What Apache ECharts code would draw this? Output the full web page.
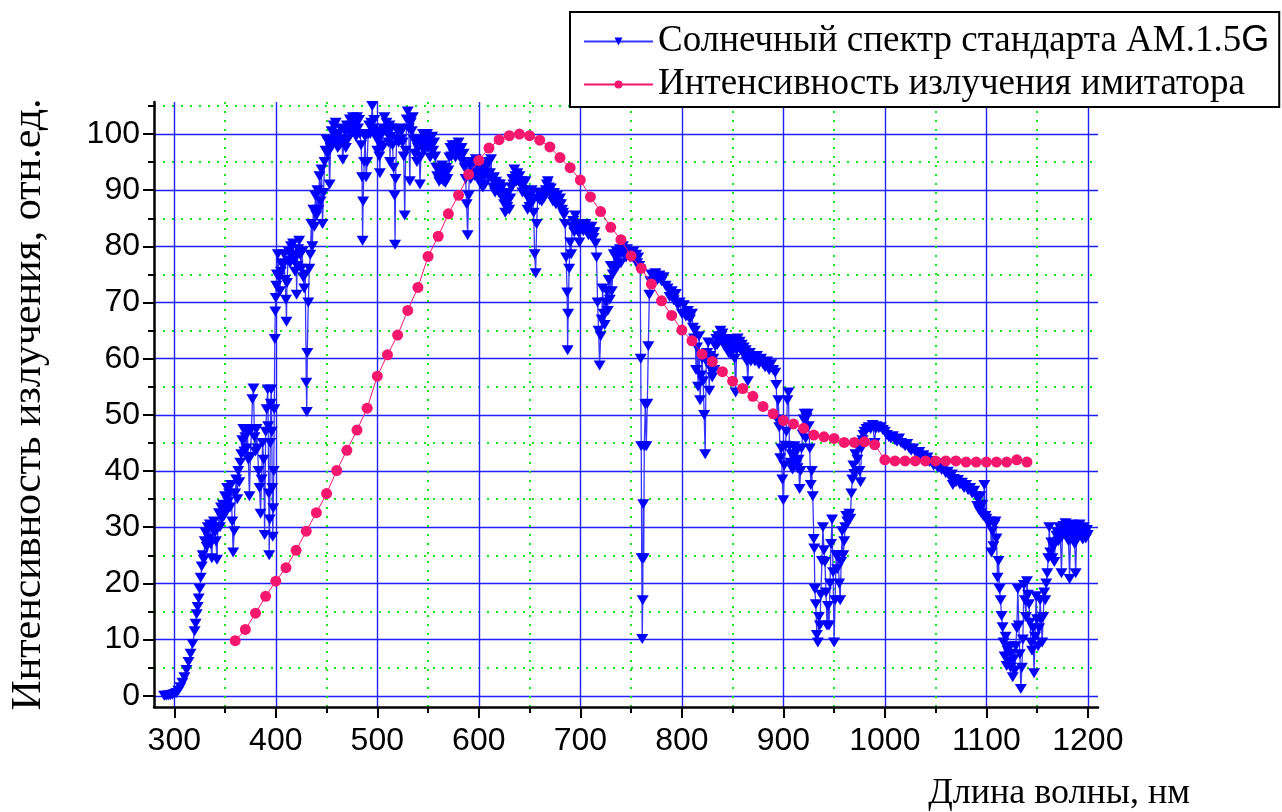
<!DOCTYPE html>
<html><head><meta charset="utf-8">
<script src="https://cdn.jsdelivr.net/npm/echarts@6/dist/echarts.min.js"></script>
<style>html,body{margin:0;padding:0;background:#fff}#c{width:1282px;height:812px}</style>
</head><body><div id="c"></div><script>
// ---------- tick labels ----------
const xMajorTicks = [300, 400, 500, 600, 700, 800, 900, 1000, 1100, 1200];
const xMinorTicks = [350, 450, 550, 650, 750, 850, 950, 1050, 1150];
const yMajorTicks = [0, 10, 20, 30, 40, 50, 60, 70, 80, 90, 100];
const yMinorTicks = [5, 15, 25, 35, 45, 55, 65, 75, 85, 95, 105];

// ---------- series names ----------
const solarName = 'Солнечный спектр стандарта АМ.1.5G';
const imitatorName = 'Интенсивность излучения имитатора';

// ---------- AM1.5G solar spectrum, [nm, rel. units] ----------
const solarUV = [[290,0],[292,0],[294,0.05],[296,0.1],[298,0.2],[300,0.3],[302,0.5],[304,0.9],[306,1.5],[308,2.3],[310,3.3],[312,4.6],[314,6.0],[316,7.5],[318,9.2],[320,11.5],[321,12.8],[322,14.5],[323,15.8],[324,17.3],[325,19.0],[326,21.0],[327,23.0],[328,25.0],[329,24.2],[330,27.5],
[331,29.0],[332,26.5],[333,30.0],[334,28.0],[335,30.5],[336,27.0],[337,24.5],[338,29.5],[339,31.0],[340,29.0],[341,27.5],[342,24.2],[343,30.0],[344,32.5],[345,30.0],[346,33.5],[347,31.5],[348,34.0],[349,32.0],[350,35.5],[351,33.0],[352,37.0],[353,34.5],[354,36.0],[355,33.5],[356,37.5],[357,31.0],[358,25.5],[359,29.3],[360,36.0],[361,38.5],[362,35.0],[363,40.0],[364,38.0],[365,41.5],[366,43.0],[367,45.5],[368,47.5],[369,43.5],[370,46.0],[371,44.0],[372,47.0],[373,42.0],[374,35.5],[375,42.5],[376,47.5],[377,52.8],[378,54.7],[379,46.0],[380,43.5],[381,47.5],[382,44.0],[383,40.0],[384,37.0],[385,32.4],[386,38.5],[387,45.0],[388,42.0],[389,28.6],[390,47.0],[391,51.0],[392,54.5],[392.5,48.0],[393,36.0],[393.5,25.0],[394,31.4],[394.5,45.0],[395,52.0],[395.5,54.5],[396,47.0],[396.5,37.0],[397,28.3],[397.5,33.4],[398,40.0],[398.5,51.0],[399,63.5],[399.5,68.4],[400,70.8]];

const solarBlue = [[400.5,73.0],[401,75.0],[402,78.6],[403,74.5],[404,72.0],[405,75.5],[406,77.0],[407,76.5],[408,78.6],[409,74.0],[410,70.5],[410.5,66.6],[411,73.5],[412,77.5],[413,79.0],[414,77.0],[415,80.0],[416,78.0],[417,80.5],[418,77.5],[419,75.5],[420,78.5],[420.5,71.4],[421,76.5],[422,79.5],[423,81.0],[424,78.5],[425,76.0],[426,79.0],[427,74.5],[428,72.5],[429,75.0],[430,55.7],[430.5,50.5],[431,61.0],[432,70.0],[433,76.0],[434,78.5],[435,84.0],[436,80.0],[437,86.5],[438,83.5],[439,89.0],[440,85.5],[441,90.0],[442,86.5],[443,92.5],[444,88.0],[445,93.7],[446,84.0],[447,89.5],[448,95.0],[449,97.0],[450,99.0],[451,96.5],[452,98.5],[453,91.0],[454,97.5],[455,100.5],[456,98.0],[457,101.5],[458,99.0],[459,102.0],[460,99.5],[461,97.5],[462,100.0],[463,98.0],[464,101.0],[465,99.0],[466,95.4],[467,98.5],[468,100.5],[469,97.5],[470,101.5],[471,99.0],[472,100.5],[473,102.6],[474,100.0],[475,101.5],[476,103.0],[477,100.5],[478,102.0],[479,99.5],[480,103.0],[481,101.0],[482,102.5],[483,100.0],[484,98.0],[485,92.3],[485.5,81.0],[486,88.0],[487,95.0],[488,99.5],[489,92.3],[490,95.0],[491,100.0],[492,101.5],[493,100.0],[494,102.0],[495,105.0],[496,101.0],[497,102.5],[498,99.5],[499,100.5],[500,97.0]];

const solarGreen = [[501,99.0],[502,96.0],[502.5,93.0],[503,98.0],[504,100.0],[505,97.5],[506,101.0],[507,103.0],[508,100.5],[509,102.0],[510,100.0],[511,98.5],[512,101.5],[512.5,95.0],[513,99.5],[514,101.0],[515,98.0],[516,94.0],[517,89.0],[517.5,80.3],[518,92.0],[519,99.0],[520,100.5],[521,98.5],[522,101.0],[523,99.0],[524,100.5],[525,98.5],[526,96.0],[527,85.5],[528,97.0],[529,102.6],[530,104.0],[531,101.0],[532,91.6],[533,102.0],[534,100.5],[535,103.0],[536,99.0],[537,96.5],[538,98.5],[539,95.0],[540,97.5],[541,99.0],[542,91.0],[543,96.0],[544,98.5],[545,100.0],[546,97.0],[547,99.5],[548,98.0],[549,100.0],[550,97.5],[551,99.0],[552,95.8],[553,98.0],[554,99.5],[555,97.0],[556,98.5],[557,96.0],[558,94.0],[559,92.5],[560,94.0],[561,91.5],[562,93.5],[563,92.0],[564,94.4],[565,91.6],[566,93.0],[567,91.3],[568,94.0],[569,92.0],[570,93.5],[571,95.8],[572,97.5],[573,96.0],[574,98.0],[575,96.5],[576,97.5],[577,95.8],[578,98.0],[579,96.5],[580,98.5],[581,97.0],[582,96.0],[583,97.5],[584,95.0],[585,96.5],[586,94.0],[587,92.0],[588,87.5],[589,82.0],[590,89.0],[591,94.5],[592,92.0],[593,95.0],[594,93.0],[595,94.5],[596,92.5],[597,95.5],[598,93.0],[599,94.5],[600,92.0]];

const solarRed = [[601,94.0],[602,91.0],[603,93.5],[604,90.5],[605,92.5],[606,91.0],[607,93.0],[608,94.5],[609,92.5],[610,95.0],[611,93.0],[612,95.5],[613,92.0],[614,90.5],[615,92.3],[616,89.6],[617,91.5],[618,90.0],[619,91.0],[620,89.5],[621,91.0],[622,89.0],[623,90.5],[624,88.5],[625,87.5],[626,86.0],[627,88.0],[628,87.0],[629,89.5],[630,86.5],[631,88.5],[632,90.5],[633,92.0],[634,91.0],[635,93.7],[636,92.5],[637,91.5],[638,93.0],[639,91.6],[640,92.5],[641,91.0],[642,91.6],[643,89.6],[644,91.0],[645,90.0],[646,91.6],[647,89.0],[648,86.5],[649,88.5],[650,87.0],[651,89.0],[652,90.0],[653,88.0],[654,86.0],[655,78.6],[656,75.2],[657,84.0],[658,88.5],[659,89.6],[660,88.2],[661,89.0],[662,88.0],[663,89.5],[664,88.5],[665,89.0],[666,90.0],[667,91.0],[668,91.6],[669,90.5],[670,89.5],[671,90.3],[672,89.0],[673,88.0],[674,89.5],[675,88.5],[676,87.5],[677,89.0],[678,88.0],[679,87.5],[680,88.5],[681,87.5],[682,86.5],[683,86.0],[684,85.5],[685,84.0],[686,78.0],[687,71.8],[687.5,61.5],[688,68.0],[689,76.0],[690,80.7],[691,78.6],[692,83.5],[693,84.5],[694,82.5],[695,85.5],[696,83.0],[697,84.0],[698,82.5],[699,80.7],[700,83.5],
[701,83.0],[702,84.0],[703,82.7],[704,83.5],[705,84.0],[706,82.7],[707,83.5],[708,82.0],[709,83.0],[710,82.0],[711,83.5],[712,82.5],[713,81.5],[714,82.5],[715,80.5],[716,78.0],[717,70.0],[718,65.0],[719,58.8],[720,64.0],[721,67.0],[722,72.5],[723,68.0],[724,66.0],[725,70.0],[726,72.0],[727,68.5],[728,74.0],[729,70.5],[730,76.5],[731,72.0],[732,75.0],[733,78.6],[734,76.0],[735,78.0],[736,79.0],[737,76.5],[738,78.5],[739,79.5],[740,77.0],[741,79.0],[742,80.0],[743,78.5],[744,79.0],[745,78.0],[746,79.5],[747,78.5],[748,79.0],[749,78.0],[750,79.0],[751,78.0],[752,79.0],[753,78.0],[754,77.5],[755,78.5],[756,77.0],[757,78.0],[758,76.5],[759,75.9]];

const solarNIR1 = [[759.5,60.0],[760,44.4],[760.5,24.5],[761,10.1],[761.5,17.0],[762,34.1],[762.5,24.5],[763,44.4],[764,51.9],[765,44.4],[766,52.0],[767,62.2],[768,71.4],[769,73.8],[770,75.0],[772,74.5],[774,75.2],[776,74.0],[778,74.8],[780,73.8],[782,74.5],[784,73.0],[786,72.5],[788,71.0],[790,72.0],[792,70.4],[794,71.5],[796,69.5],[798,70.0],[800,68.0],[802,69.5],[804,67.5],[806,68.5],[808,67.0],[810,68.0],[811,65.5],[812,63.6],[813,65.0],[814,58.0],[815,62.0],[816,55.0],[817,64.0],[818,52.6],[819,57.0],[820,60.0],[821,56.0],[822,50.0],[823,43.0],[824,59.5],[825,61.0],[826,62.9],[827,54.3],[828,60.5],[829,58.0],[830,56.7],[831,60.0],[832,58.0],[833,62.2],[834,63.5],[835,62.5],[836,64.0],[837,63.0],[838,65.0],[839,64.0],[840,64.5],[841,63.5],[842,62.2],[843,63.5],[844,62.0],[845,63.0],[846,61.0],[847,62.5],[848,60.8],[849,62.0],[850,63.5],[851,62.0],[852,60.0],[853,54.0],[854,61.5],[855,63.6],[856,62.5],[857,63.0],[858,61.5],[859,62.5],[860,61.0],[861,62.0],[862,60.8],[863,61.5],[864,59.5],[865,56.0],[866,60.5],[867,61.0],[868,59.5],[869,60.5],[870,60.0],[872,59.5],[874,60.5],[876,59.0],[878,60.0],[880,59.0],[882,58.5],[884,59.5],[886,58.0],[888,59.0],[890,58.0],[892,57.5],[893,55.3],[894,49.2],[895,52.6],[896,47.8],[897,42.3],[898,44.0],[899,38.5],[900,34.8]];

const solarNIR2 = [[901,41.0],[902,44.5],[903,47.0],[904,52.6],[905,54.0],[906,44.4],[907,41.5],[908,43.0],[909,40.3],[910,42.5],[911,44.4],[912,41.0],[913,43.5],[914,40.5],[915,42.0],[916,36.8],[917,40.0],[918,44.0],[919,46.5],[920,49.2],[921,50.2],[922,45.8],[923,49.5],[924,50.2],[925,48.0],[926,44.0],[927,37.5],[928,40.0],[929,35.5],[930,27.9],[930.5,26.2],[931,19.0],[932,16.3],[933,10.8],[934,9.5],[935,14.0],[936,12.5],[937,18.0],[938,24.0],[939,30.0],[940,25.9],[941,23.8],[942,18.4],[943,12.5],[944,16.0],[945,12.5],[946,20.0],[947,27.0],[948,31.4],[949,22.0],[950,9.5],[951,17.0],[952,25.0],[953,22.5],[954,25.0],[955,20.0],[956,17.0],[957,23.8],[958,29.3],[959,25.0],[960,27.5],[961,30.0],[962,32.0],[963,31.0],[964,32.0],[965,32.4],[966,31.5],[967,36.0],[968,38.5],[969,41.0],[970,39.5],[971,43.0],[972,45.0],[973,42.0],[974,44.4],[975,40.0],[976,38.0],[977,44.0],[978,45.5],[979,46.4],[980,47.0],[982,47.5],[984,47.8],[986,47.5],[988,48.2],[990,45.0],[991,47.5],[992,48.0],[994,47.6],[996,47.8],[998,47.3],[1000,47.0],
[1002,46.4],[1004,46.0],[1006,45.8],[1008,46.2],[1010,45.5],[1012,45.2],[1014,45.8],[1016,45.0],[1018,44.8],[1020,44.4],[1022,44.8],[1024,44.0],[1026,43.6],[1028,44.0],[1030,43.4],[1032,43.0],[1034,43.4],[1036,42.6],[1038,42.8],[1040,42.0],[1042,42.4],[1044,41.6],[1046,41.8],[1048,41.0],[1050,41.4],[1052,40.6],[1054,40.9],[1056,40.2],[1058,40.5],[1060,39.6],[1062,39.9],[1064,39.0],[1066,39.4],[1067,37.5],[1068,38.6],[1070,38.0],[1072,38.4],[1074,37.6],[1076,37.9],[1078,37.0],[1080,37.5],[1082,36.6],[1084,37.0],[1086,36.0],[1088,36.5],[1090,35.5],[1091,33.8],[1092,35.0],[1093,33.0],[1094,35.5],[1095,32.5],[1096,34.0],[1097,32.0],[1098,37.5],[1099,32.0],[1100,31.5],
[1102,30.7],[1104,31.0],[1105,25.5],[1106,29.3],[1107,26.6],[1108,30.5],[1109,31.0],[1110,28.0],[1111,21.0],[1112,24.0],[1113,19.0],[1114,17.0],[1115,14.2],[1116,12.2],[1117,9.5],[1118,7.0],[1119,10.5],[1120,5.3],[1121,8.0],[1122,6.0],[1123,8.8],[1124,5.0],[1125,7.5],[1126,3.3],[1127,6.5],[1128,4.5],[1129,8.8],[1130,12.0],[1131,19.0],[1132,12.5],[1133,7.4],[1134,1.2],[1135,5.0],[1136,10.0],[1137,19.7],[1138,17.0],[1139,14.0],[1140,20.4],[1141,18.0],[1142,16.3],[1143,13.0],[1144,9.5],[1145,8.0],[1146,12.0],[1147,4.0],[1148,10.5],[1149,17.7],[1150,13.6],[1151,8.8],[1152,12.0],[1153,17.0],[1154,13.6],[1155,9.5],[1156,14.0],[1157,18.4],[1158,17.0],[1159,20.0],[1160,21.8],[1161,24.5],[1162,30.0],[1163,25.5],[1164,27.3],[1165,24.5],[1166,26.5],[1167,23.8],[1168,27.3],[1169,28.5],[1170,29.0],[1171,27.5],[1172,30.0],[1173,28.0],[1174,21.8],[1175,28.5],[1176,30.2],[1177,29.0],[1178,30.7],[1179,28.5],[1180,30.0],[1181,27.5],[1182,20.8],[1183,29.0],[1184,30.5],[1185,28.5],[1186,29.8],[1187,27.0],[1188,21.8],[1189,28.0],[1190,30.0],[1191,29.0],[1192,30.5],[1193,28.5],[1194,29.5],[1195,27.8],[1196,30.0],[1197,28.8],[1198,28.0],[1199,29.5],[1200,28.6]];

// ---------- simulator (imitator) intensity ----------
const imitatorWavelengths = [360,370,380,390,400,410,420,430,440,450,460,470,480,490,500,510,520,530,540,550,560,570,580,590,600,610,620,630,640,650,660,670,680,690,700,710,720,730,740,750,760,770,780,790,800,810,820,830,840,850,860,870,880,890,900,910,920,930,940,950,960,970,980,990,1000,1010,1020,1030,1040,1050,1060,1070,1080,1090,1100,1110,1120,1130,1140];
const imitatorValues = [9.8,11.8,14.7,17.7,20.4,22.8,25.9,29.3,32.6,36.0,40.1,43.7,47.3,51.2,56.9,60.7,64.2,68.6,72.7,78.2,81.8,85.8,89.1,92.8,95.3,97.5,99.0,99.7,100.0,99.7,98.9,97.7,95.8,94.0,91.8,88.8,86.2,83.4,81.2,78.3,76.1,73.3,70.3,67.7,65.1,63.2,60.8,59.5,57.7,56.0,54.7,53.3,51.5,50.2,49.0,48.4,47.6,46.4,46.1,45.8,45.1,45.1,45.2,44.7,42.0,41.8,41.8,41.8,41.8,41.8,41.8,41.8,41.6,41.6,41.6,41.6,41.6,42.0,41.6];

// ---------- build ----------
const solarData = [].concat(solarUV, solarBlue, solarGreen, solarRed, solarNIR1, solarNIR2);
const imitatorData = imitatorWavelengths.map((w, i) => [w, imitatorValues[i]]);

const SANS = "'Liberation Sans', Arial, Helvetica, sans-serif";
const SERIF = "'Liberation Serif', 'Times New Roman', Times, serif";
const TRI_DOWN = 'path://M0,0L10,0L5,9Z';
const BLUE = '#0000ff';
const PINK = '#f5166d';
const MAJOR_GRID = {show: true, lineStyle: {color: '#1f1fff', width: 1.4}};
const MINOR_GRID = {show: true, lineStyle: {color: '#19e619', width: 2, type: [2, 7]}};
const plainNumber = v => String(v);

const chart = echarts.init(document.getElementById('c'), null, {renderer: 'canvas'});
chart.setOption({
  animation: false,
  backgroundColor: '#ffffff',
  grid: {left: 154, right: 184, top: 102, bottom: 105, containLabel: false, outerBoundsMode: 'none'},
  legend: {
    orient: 'vertical', left: 570, top: 12,
    padding: [11, 10, 4, 13], itemGap: 6,
    itemWidth: 69, itemHeight: 10,
    backgroundColor: '#ffffff', borderColor: '#000000', borderWidth: 2, borderRadius: 0,
    data: [solarName, imitatorName],
    formatter: function (name) {
      return name === solarName ? 'Солнечный спектр стандарта АМ.1.5{g|G}' : name;
    },
    textStyle: {
      fontFamily: SERIF, fontSize: 37, color: '#000',
      rich: {g: {fontFamily: SANS, fontSize: 36, color: '#000'}}
    }
  },
  xAxis: [{
    type: 'value', min: 280, max: 1210, position: 'bottom',
    axisLine: {show: true, onZero: false, lineStyle: {color: '#000', width: 2.5}},
    axisTick: {show: true, inside: false, length: 11, customValues: xMajorTicks, lineStyle: {color: '#000', width: 2}},
    axisLabel: {customValues: xMajorTicks, formatter: plainNumber, fontFamily: SANS, fontSize: 32, color: '#000', margin: 18},
    splitLine: MAJOR_GRID,
    name: 'Длина волны, нм', nameLocation: 'end', nameGap: 92,
    nameTextStyle: {fontFamily: SERIF, fontSize: 36, color: '#000', align: 'right', verticalAlign: 'top', padding: [69, 0, 0, 0]}
  }, {
    type: 'value', min: 280, max: 1210, position: 'bottom',
    axisLine: {show: false, onZero: false},
    axisTick: {show: true, inside: false, length: 6, customValues: xMinorTicks, lineStyle: {color: '#000', width: 2}},
    axisLabel: {show: false},
    splitLine: MINOR_GRID
  }],
  yAxis: [{
    type: 'value', min: -2, max: 105.7, position: 'left',
    axisLine: {show: true, onZero: false, lineStyle: {color: '#000', width: 2.5}},
    axisTick: {show: true, inside: false, length: 11, customValues: yMajorTicks, lineStyle: {color: '#000', width: 2}},
    axisLabel: {customValues: yMajorTicks, formatter: plainNumber, fontFamily: SANS, fontSize: 32, color: '#000', margin: 14},
    splitLine: MAJOR_GRID,
    name: 'Интенсивность излучения, отн.ед.', nameLocation: 'middle', nameGap: 104, nameRotate: 90,
    nameTextStyle: {fontFamily: SERIF, fontSize: 42, color: '#000'}
  }, {
    type: 'value', min: -2, max: 105.7, position: 'left', offset: 0,
    axisLine: {show: false, onZero: false},
    axisTick: {show: true, inside: false, length: 6, customValues: yMinorTicks, lineStyle: {color: '#000', width: 2}},
    axisLabel: {show: false},
    splitLine: MINOR_GRID
  }],
  series: [{
    name: solarName, type: 'line', xAxisIndex: 0, yAxisIndex: 0,
    data: solarData, symbol: TRI_DOWN, symbolSize: [12, 10], showAllSymbol: true,
    itemStyle: {color: BLUE}, lineStyle: {color: '#3535ff', width: 1.3},
    emphasis: {disabled: true}, z: 2
  }, {
    name: imitatorName, type: 'line', xAxisIndex: 0, yAxisIndex: 0,
    data: imitatorData, symbol: 'circle', symbolSize: 11, showAllSymbol: true,
    itemStyle: {color: PINK}, lineStyle: {color: PINK, width: 1},
    emphasis: {disabled: true}, z: 3
  }]
});
</script></body></html>
